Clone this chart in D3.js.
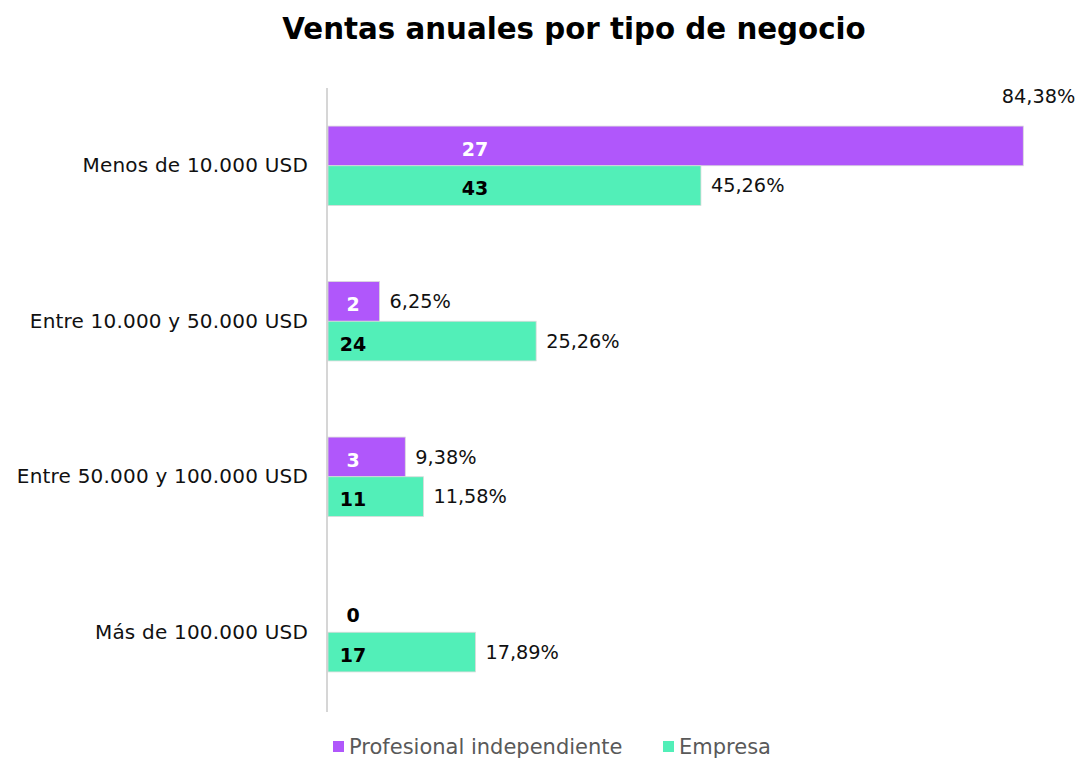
<!DOCTYPE html>
<html><head><meta charset="utf-8">
<script src="https://cdn.jsdelivr.net/npm/d3@7"></script>
<style>body{margin:0;background:#fff}svg{display:block}</style>
</head><body>
<script>
const categories = ["Menos de 10.000 USD","Entre 10.000 y 50.000 USD","Entre 50.000 y 100.000 USD","Más de 100.000 USD"];
const seriesNames = ["Profesional independiente","Empresa"];
const profCounts = [27, 2, 3, 0];
const profPct = [84.38, 6.25, 9.38, 0];
const empCounts = [43, 24, 11, 17];
const empPct = [45.26, 25.26, 11.58, 17.89];
const colors = ["#B057FB", "#52EFB8"];
const title = "Ventas anuales por tipo de negocio";

const W = 1079, H = 760;
const font = "'DejaVu Sans', sans-serif";
const svg = d3.select("body").append("svg").attr("width", W).attr("height", H);

svg.append("text").attr("x", 574).attr("y", 39).attr("text-anchor", "middle")
  .attr("font-family", font).attr("font-weight", 700).attr("font-size", 29.3).attr("fill", "#000")
  .text(title);

const x = d3.scaleLinear().domain([0, 100]).range([328, 1152]);
const y = d3.scaleBand().domain(categories).range([88, 710]);
const sub = d3.scaleBand().domain([0, 1]).range([0, y.bandwidth()]).paddingOuter(0.96).paddingInner(0);

const rows = categories.map((c, i) => ({c, series: [
  {s: 0, n: profCounts[i], p: profPct[i]},
  {s: 1, n: empCounts[i], p: empPct[i]}]}));

const g = svg.append("g");
const grp = g.selectAll("g.grp").data(rows).join("g").attr("transform", d => `translate(0,${y(d.c)})`);

grp.selectAll("rect").data(d => d.series.filter(e => e.n > 0)).join("rect")
  .attr("x", x(0)).attr("y", e => sub(e.s)).attr("width", e => x(e.p) - x(0)).attr("height", sub.bandwidth())
  .attr("fill", e => colors[e.s]).attr("stroke", "#d9d9d9").attr("stroke-width", 0.8);

// count labels
grp.selectAll("text.cnt").data(d => d.series).join("text").attr("class", "cnt")
  .attr("x", e => x(0) + ((x(e.p) - x(0)) > 300 ? 147 : 25))
  .attr("y", e => sub(e.s) + sub.bandwidth() / 2 + 3).attr("dy", "0.35em").attr("text-anchor", "middle")
  .attr("font-family", font).attr("font-weight", 700).attr("font-size", 19)
  .attr("fill", e => (e.s === 0 && e.n > 0) ? "#fff" : "#000")
  .text(e => e.n);

// percentage labels
grp.selectAll("text.pct").data(d => d.series.filter(e => e.n > 0)).join("text").attr("class", "pct")
  .each(function(e) {
    const t = d3.select(this);
    const big = x(e.p) > 900;
    t.attr("x", big ? x(e.p) + 52 : x(e.p) + 10)
     .attr("y", big ? sub(e.s) - 30 : sub(e.s) + sub.bandwidth() / 2)
     .attr("text-anchor", big ? "end" : "start");
  })
  .attr("dy", "0.35em")
  .attr("font-family", font).attr("font-size", 19.3).attr("fill", "#111")
  .text(e => e.p.toFixed(2).replace(".", ",") + "%");

// y axis
const ya = d3.axisLeft(y).tickSize(0).tickPadding(19);
const axg = svg.append("g").attr("transform", `translate(327,0)`).call(ya);
axg.select(".domain").attr("stroke", "#c8c8c8").attr("stroke-width", 1.5).attr("d", "M0,88V712");
axg.selectAll("text").attr("font-family", font).attr("font-size", 20).attr("letter-spacing", 0.2).attr("fill", "#111");

// legend
const leg = svg.append("g").attr("transform", "translate(333,747)");
const items = leg.selectAll("g").data(seriesNames).join("g").attr("transform", (d, i) => `translate(${i * 330},0)`);
items.append("rect").attr("x", 0).attr("y", -6).attr("width", 11).attr("height", 11).attr("fill", (d, i) => colors[i]);
items.append("text").attr("x", 16).attr("dy", "0.35em").attr("font-family", font).attr("font-size", 21).attr("fill", "#595959").text(d => d);
</script>
</body></html>
